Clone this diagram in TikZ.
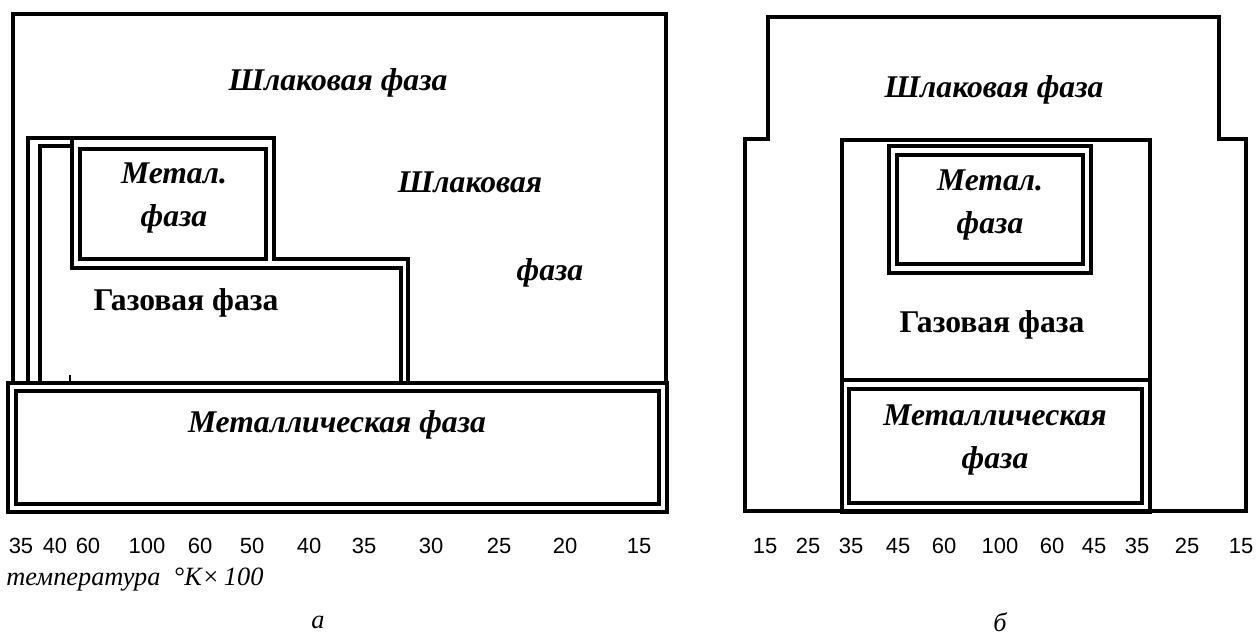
\documentclass[tikz,border=0pt]{standalone}
\usepackage{fontspec}
\setmainfont{Liberation Serif}
\newfontfamily\numfont{Liberation Sans}
\begin{document}
\begin{tikzpicture}[x=0.02cm,y=-0.02cm,
  wall/.style={line width=1.9pt,line cap=rect,line join=miter},
  thinwall/.style={line width=1.4pt},
  phase/.style={font=\fontsize{18}{22}\selectfont\bfseries\itshape,align=center,inner sep=0pt},
  gas/.style={font=\fontsize{18}{22}\selectfont\bfseries,inner sep=0pt},
  num/.style={font=\numfont\fontsize{12.5}{14}\selectfont,inner sep=0pt},
  captext/.style={font=\fontsize{15}{18}\selectfont\itshape,inner sep=0pt}]
\useasboundingbox (0,0) rectangle (1260,637);
% ---------- figure a ----------
\draw[wall] (13,383) -- (13,14) -- (666,14) -- (666,383);
\draw[wall] (8,383) rectangle (667,512);
\draw[wall] (16,391) rectangle (659,504);
\draw[wall] (28,383) -- (28,138) -- (274,138) -- (274,259) -- (408,259) -- (408,383);
\draw[wall] (40,383) -- (40,146) -- (72,146);
\draw[wall] (72,138) -- (72,268) -- (401,268) -- (401,383);
\draw[wall] (80,149) rectangle (266,259);
\draw[thinwall] (70,375) -- (70,383);
\node[phase] (slagA) at (338,83) {Шлаковая фаза};
\node[phase] (metA) at (174,198) {Метал.\\[2pt]фаза};
\node[phase] (slagA2) at (470,182) {Шлаковая};
\node[phase] (slagA3) at (550,273) {фаза};
\node[gas] (gasA) at (186,303) {Газовая фаза};
\node[phase] (metbigA) at (337,425) {Металлическая фаза};
\foreach \t/\x [count=\i] in {35/21,40/55,60/88,100/147,60/200,50/252,40/309,35/364,30/431,25/499,20/565,15/639}
  \node[num] (na\i) at (\x,546) {\t};
\node[captext,anchor=west] (temp) at (6,580) {температура\enspace °К×\,100};
\node[captext] (labA) at (318,622) {а};
% ---------- figure b ----------
\draw[wall] (745,511) -- (745,139) -- (768,139) -- (768,17) -- (1219,17) -- (1219,139) -- (1246,139) -- (1246,511) -- cycle;
\draw[wall] (842,511) -- (842,140) -- (1150,140) -- (1150,511);
\draw[wall] (842,380) -- (1150,380);
\draw[wall] (842,512) -- (1150,512);
\draw[wall] (849,389) rectangle (1142,503);
\draw[wall] (889,146) rectangle (1091,273);
\draw[wall] (897,155) rectangle (1083,264);
\node[phase] (slagB) at (994,90) {Шлаковая фаза};
\node[phase] (metB) at (990,205) {Метал.\\[2pt]фаза};
\node[gas] (gasB) at (992,325) {Газовая фаза};
\node[phase] (metbigB) at (995,440) {Металлическая\\[2pt]фаза};
\foreach \t/\x [count=\i] in {15/765,25/808,35/851,45/898,60/944,100/1000,60/1052,45/1094,35/1137,25/1187,15/1241}
  \node[num] (nb\i) at (\x,546) {\t};
\node[captext] (labB) at (1000,622) {б};
\end{tikzpicture}
\end{document}
